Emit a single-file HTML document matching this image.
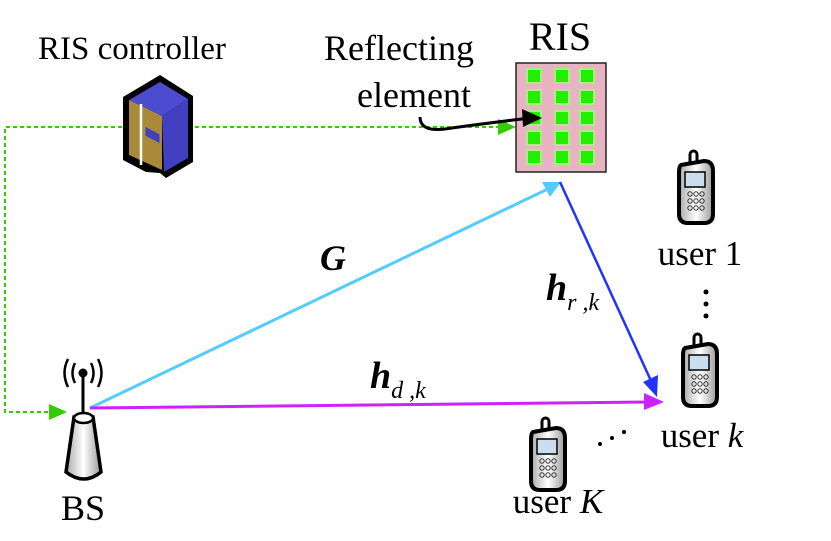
<!DOCTYPE html>
<html><head><style>
html,body{margin:0;padding:0;background:#fff;}
svg{display:block;}
text{font-family:"Liberation Serif",serif;fill:#000;}
</style></head><body>
<svg width="831" height="541" viewBox="0 0 831 541" xmlns="http://www.w3.org/2000/svg">
<defs>
<linearGradient id="gb" x1="0" x2="1"><stop offset="0" stop-color="#aaa"/><stop offset="0.5" stop-color="#fff"/><stop offset="1" stop-color="#999"/></linearGradient>
<g id="phone">
<rect x="-6" y="-36" width="7" height="16" rx="3.5" fill="#fff" stroke="#000" stroke-width="3"/>
<path d="M-15,-22 L8,-26 Q17,-26 17,-16 L17,27 Q17,36 8,36 L-8,36 Q-17,36 -17,27 L-17,-14 Q-17,-21 -15,-22Z" fill="url(#gb)" stroke="#000" stroke-width="4"/>
<rect x="-11" y="-15" width="20" height="15" fill="#cde" stroke="#000" stroke-width="1.5"/>
<g fill="none" stroke="#333" stroke-width="1"><circle cx="-6" cy="7" r="2.2"/><circle cx="0" cy="7" r="2.2"/><circle cx="6" cy="7" r="2.2"/><circle cx="-6" cy="14" r="2.2"/><circle cx="0" cy="14" r="2.2"/><circle cx="6" cy="14" r="2.2"/><circle cx="-6" cy="21" r="2.2"/><circle cx="0" cy="21" r="2.2"/><circle cx="6" cy="21" r="2.2"/></g>
</g>
</defs>

<!-- green dashed control link -->
<path d="M500,127 L5,127 L5,412 L52,412" fill="none" stroke="#33cc00" stroke-width="2" stroke-dasharray="4,3"/>
<path d="M498,119 L516,127 L498,135 Z" fill="#33cc00"/>
<path d="M49,404 L67,412 L49,420 Z" fill="#33cc00"/>

<!-- controller -->
<text x="132" y="59" font-size="33" text-anchor="middle">RIS controller</text>
<path d="M160,75 L193,96 L193,162 L166,178 L160,173 L146,172 L123,160 L123,97 Z" fill="#000"/>
<path d="M129,100 L160,82 L188,99 L162,116 Z" fill="#4c4cd0"/>
<path d="M162,116 L188,99 L188,158 L164,172 Z" fill="#4040c0"/>
<path d="M129,100 L162,116 L162,170 L129,155 Z" fill="#a88a3a"/>
<path d="M141,104 L141,165" stroke="#fff" stroke-width="2.5"/>
<path d="M145,126 L160,134 L160,144 L145,136Z" fill="#4040c0" stroke="#a88a3a"/>

<!-- RIS -->
<text x="560" y="50" font-size="40" text-anchor="middle">RIS</text>
<rect x="516" y="63" width="90" height="109" fill="#e8b4c4" stroke="#222" stroke-width="1.5"/>
<g fill="#22ee00" stroke="#aaee88" stroke-width="2">
<rect x="527" y="69" width="14" height="14"/><rect x="555" y="69" width="14" height="14"/><rect x="580" y="69" width="14" height="14"/>
<rect x="527" y="90" width="14" height="14"/><rect x="555" y="90" width="14" height="14"/><rect x="580" y="90" width="14" height="14"/>
<rect x="527" y="111" width="14" height="14"/><rect x="555" y="111" width="14" height="14"/><rect x="580" y="111" width="14" height="14"/>
<rect x="527" y="131" width="14" height="14"/><rect x="555" y="131" width="14" height="14"/><rect x="580" y="131" width="14" height="14"/>
<rect x="527" y="150" width="14" height="14"/><rect x="555" y="150" width="14" height="14"/><rect x="580" y="150" width="14" height="14"/>
</g>
<text x="399" y="60" font-size="36" text-anchor="middle">Reflecting</text>
<text x="414" y="107" font-size="36" text-anchor="middle">element</text>
<path d="M420,117 Q420,132 445,129 Q480,124 530,118" fill="none" stroke="#000" stroke-width="3"/>
<path d="M522,109 L542,118 L523,127 Z" fill="#000"/>

<!-- links -->
<line x1="90" y1="408" x2="552" y2="187" stroke="#55ccff" stroke-width="3"/>
<path d="M542,182 L561,182 L550,197 Z" fill="#55ccff"/>
<line x1="560" y1="182" x2="652" y2="383" stroke="#2233ff" stroke-width="2.5"/>
<path d="M643,382 L657,397 L658,375 Z" fill="#2233ff"/>
<line x1="90" y1="408" x2="650" y2="402" stroke="#cc22ff" stroke-width="3"/>
<path d="M644,393 L664,402 L644,410 Z" fill="#cc22ff"/>

<text x="320" y="270" font-size="36" font-weight="bold" font-style="italic">G</text>
<text x="546" y="300" font-size="38" font-weight="bold" font-style="italic">h<tspan font-size="24" font-weight="normal" dy="10">r</tspan><tspan font-size="24" font-weight="normal"> ,</tspan><tspan font-size="24" font-weight="normal">k</tspan></text>
<text x="370" y="388" font-size="38" font-weight="bold" font-style="italic">h<tspan font-size="24" font-weight="normal" dy="10">d</tspan><tspan font-size="24" font-weight="normal"> ,</tspan><tspan font-size="24" font-weight="normal">k</tspan></text>

<!-- BS -->
<g fill="none" stroke="#000" stroke-width="2.5">
<path d="M68,359 Q61,373 68,387"/><path d="M75,363 Q70,373 75,383"/>
<path d="M98,359 Q105,373 98,387"/><path d="M91,363 Q96,373 91,383"/>
</g>
<circle cx="83" cy="373" r="4.5" fill="#000"/>
<line x1="83" y1="373" x2="83" y2="412" stroke="#000" stroke-width="3"/>
<path d="M74,417 L93,417 L101,472 Q84,486 66,472 Z" fill="url(#gb)" stroke="#000" stroke-width="3.5"/>
<ellipse cx="83.5" cy="418" rx="9.5" ry="5" fill="#fff" stroke="#000" stroke-width="2.5"/>
<text x="83" y="520" font-size="36" text-anchor="middle">BS</text>

<!-- users -->
<use href="#phone" x="696" y="187"/>
<text x="700" y="265" font-size="35" text-anchor="middle">user 1</text>
<circle cx="706" cy="292" r="2.5" fill="#000"/><circle cx="706" cy="304" r="2.5" fill="#000"/><circle cx="706" cy="316" r="2.5" fill="#000"/>
<use href="#phone" x="700" y="370"/>
<text x="702" y="447" font-size="35" text-anchor="middle">user <tspan font-style="italic">k</tspan></text>
<use href="#phone" x="548" y="454"/>
<text x="558" y="513" font-size="35" text-anchor="middle">user <tspan font-style="italic">K</tspan></text>
<circle cx="600" cy="444" r="2" fill="#000"/><circle cx="612" cy="438" r="2" fill="#000"/><circle cx="624" cy="432" r="2" fill="#000"/>
</svg>
</body></html>
